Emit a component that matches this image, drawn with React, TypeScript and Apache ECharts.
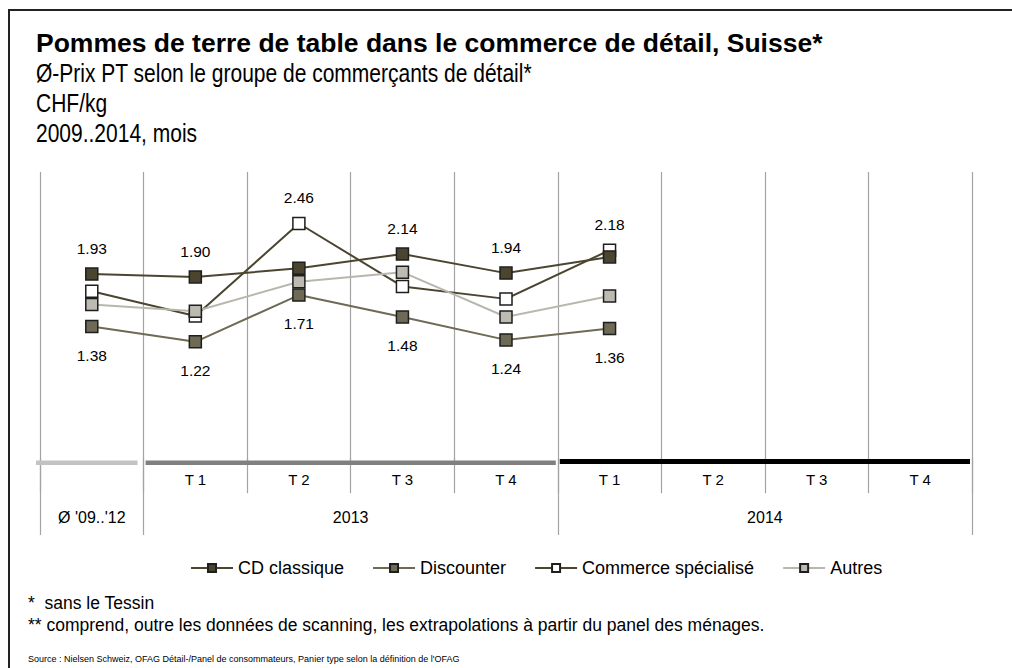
import React, { useEffect, useRef } from "react";
import * as echarts from "echarts";

const categories = ["", "T 1", "T 2", "T 3", "T 4", "T 1", "T 2", "T 3", "T 4"];
const periodLabels = ["Ø '09..'12", "2013", "2014"];
const periodStart = [0, 1, 5];
const periodEnd = [0, 4, 8];

const seriesNames = ["CD classique", "Discounter", "Commerce spécialisé", "Autres"];
const cdClassique = [1.93, 1.9, 1.99, 2.14, 1.94, 2.11, null, null, null];
const discounter = [1.38, 1.22, 1.71, 1.48, 1.24, 1.36, null, null, null];
const commerceSpecialise = [1.75, 1.49, 2.46, 1.8, 1.67, 2.18, null, null, null];
const autres = [1.61, 1.54, 1.85, 1.95, 1.48, 1.7, null, null, null];

const titleText = "Pommes de terre de table dans le commerce de détail, Suisse*";
const subtitleLines = ["Ø-Prix PT selon le groupe de commerçants de détail*", "CHF/kg", "2009..2014, mois"];
const footnotes = ["*  sans le Tessin", "** comprend, outre les données de scanning, les extrapolations à partir du panel des ménages."];
const sourceText = "Source : Nielsen Schweiz, OFAG Détail-/Panel de consommateurs, Panier type selon la définition de l'OFAG";

const FONT = "'Liberation Sans', Arial, Helvetica, sans-serif";

const seriesStyles = [
  { fill: "#4b4530", line: "#4b4530", z: 3 },
  { fill: "#6f6a55", line: "#6f6a55", z: 4 },
  { fill: "#ffffff", line: "#4b4530", z: 2 },
  { fill: "#bdbab1", line: "#b9b7ad", z: 5 },
];
const periodColors = ["#c3c3c3", "#808080", "#000000"];

export default function App() {
  const ref = useRef<HTMLDivElement>(null);
  useEffect(() => {
    if (!ref.current) return;
    const chart = echarts.init(ref.current, undefined, { renderer: "svg" });
    const all = [cdClassique, discounter, commerceSpecialise, autres];

    const maxIdx: number[] = [];
    const minIdx: number[] = [];
    categories.forEach((_, c) => {
      let mx = -1, mn = -1;
      all.forEach((arr, s) => {
        const v = arr[c];
        if (v == null) return;
        if (mx < 0 || v > (all[mx][c] as number)) mx = s;
        if (mn < 0 || v < (all[mn][c] as number)) mn = s;
      });
      maxIdx.push(mx);
      minIdx.push(mn);
    });

    const lineSeries = all.map((arr, s) => ({
      type: "line",
      name: seriesNames[s],
      xAxisIndex: 0,
      yAxisIndex: 0,
      symbol: "rect",
      symbolSize: 12,
      z: seriesStyles[s].z,
      lineStyle: { color: seriesStyles[s].line, width: 2 },
      itemStyle: { color: seriesStyles[s].fill, borderColor: "#1e1e1e", borderWidth: 1.5 },
      data: arr.map((v, c) => {
        if (v == null) return null;
        const isTop = maxIdx[c] === s;
        const isBottom = minIdx[c] === s;
        return {
          value: v,
          label: {
            show: isTop || isBottom,
            position: isTop ? "top" : "bottom",
            distance: isTop ? 11 : 14,
            formatter: (p: any) => Number(p.value).toFixed(2),
            fontSize: 15.5,
            fontFamily: FONT,
            color: "#000",
          },
        };
      }),
    }));

    const periodSeries = {
      type: "custom",
      xAxisIndex: 0,
      yAxisIndex: 0,
      clip: false,
      silent: true,
      z: 10,
      data: periodStart.map((st, i) => [st, periodEnd[i], i]),
      renderItem: (params: any, api: any) => {
        const bw = api.size([1, 0])[0];
        const x0 = api.coord([api.value(0), 0])[0] - bw / 2;
        const x1 = api.coord([api.value(1), 0])[0] + bw / 2;
        const idx = api.value(2);
        const yb = params.coordSys.y + params.coordSys.height;
        const h = idx === 2 ? 5 : 4.5;
        return {
          type: "rect",
          shape: { x: x0 + (idx === 0 ? -4 : 2), y: yb - (idx === 2 ? 3 : 1.5), width: x1 - x0 - (idx === 0 ? 2 : 4), height: h },
          style: { fill: periodColors[idx] },
        };
      },
    };

    const boundaries = [...periodStart, periodEnd[periodEnd.length - 1] + 1];
    const centers = periodStart.map((st, i) => (st + periodEnd[i] + 1) / 2);

    const subStyle = (text: string) => ({ text, font: `21px ${FONT}`, fill: "#000", verticalAlign: "middle" });

    const option: any = {
      animation: false,
      backgroundColor: "#ffffff",
      textStyle: { fontFamily: FONT },
      grid: { left: 40, top: 172, width: 932, height: 290, containLabel: false },
      legend: {
        left: 185,
        top: 554,
        itemWidth: 42,
        itemHeight: 10,
        itemGap: 28,
        data: seriesNames,
        textStyle: { fontSize: 18, fontFamily: FONT, color: "#000" },
      },
      xAxis: [
        {
          type: "category",
          data: categories,
          boundaryGap: true,
          gridIndex: 0,
          position: "bottom",
          axisLine: { show: false },
          axisTick: { show: true, interval: 0, length: 35, lineStyle: { color: "#a3a3a3", width: 1.2 } },
          axisLabel: { interval: 0, margin: 10, fontSize: 15, color: "#000", fontFamily: FONT },
          splitLine: { show: true, interval: 0, lineStyle: { color: "#a3a3a3", width: 1.2 } },
        },
        {
          type: "value",
          min: 0,
          max: 9,
          gridIndex: 0,
          position: "bottom",
          axisLine: { show: false },
          splitLine: { show: false },
          axisTick: { show: true, customValues: boundaries, length: 73, lineStyle: { color: "#a3a3a3", width: 1.2 } },
          axisLabel: {
            customValues: centers,
            margin: 47,
            fontSize: 16,
            color: "#000",
            fontFamily: FONT,
            formatter: (v: number) => {
              const i = centers.findIndex((c) => Math.abs(c - v) < 1e-6);
              return i >= 0 ? periodLabels[i] : "";
            },
          },
        },
      ],
      yAxis: [{ type: "value", min: -0.04, max: 3.0, show: false, gridIndex: 0 }],
      graphic: [
        { type: "rect", shape: { x: 9, y: 10, width: 1100, height: 1000 }, style: { fill: "none", stroke: "#222", lineWidth: 2 }, silent: true },
        { type: "text", x: 36, y: 42.5, style: { text: titleText, font: `bold 26.5px ${FONT}`, fill: "#000", verticalAlign: "middle" } },
        { type: "text", x: 36, y: 72.5, scaleY: 1.25, style: subStyle(subtitleLines[0]) },
        { type: "text", x: 36, y: 102.5, scaleY: 1.25, style: subStyle(subtitleLines[1]) },
        { type: "text", x: 36, y: 132.5, scaleY: 1.25, style: subStyle(subtitleLines[2]) },
        { type: "text", x: 28, y: 603, style: { text: footnotes[0], font: `17.5px ${FONT}`, fill: "#000", verticalAlign: "middle" } },
        { type: "text", x: 28, y: 625, style: { text: footnotes[1], font: `17.5px ${FONT}`, fill: "#000", verticalAlign: "middle" } },
        { type: "text", x: 28, y: 659, style: { text: sourceText, font: `9px ${FONT}`, fill: "#000", verticalAlign: "middle" } },
      ],
      series: [...lineSeries, periodSeries],
    };
    chart.setOption(option);
    return () => chart.dispose();
  }, []);
  return <div ref={ref} style={{ position: "fixed", left: 0, top: 0, width: 1012, height: 668 }} />;
}
